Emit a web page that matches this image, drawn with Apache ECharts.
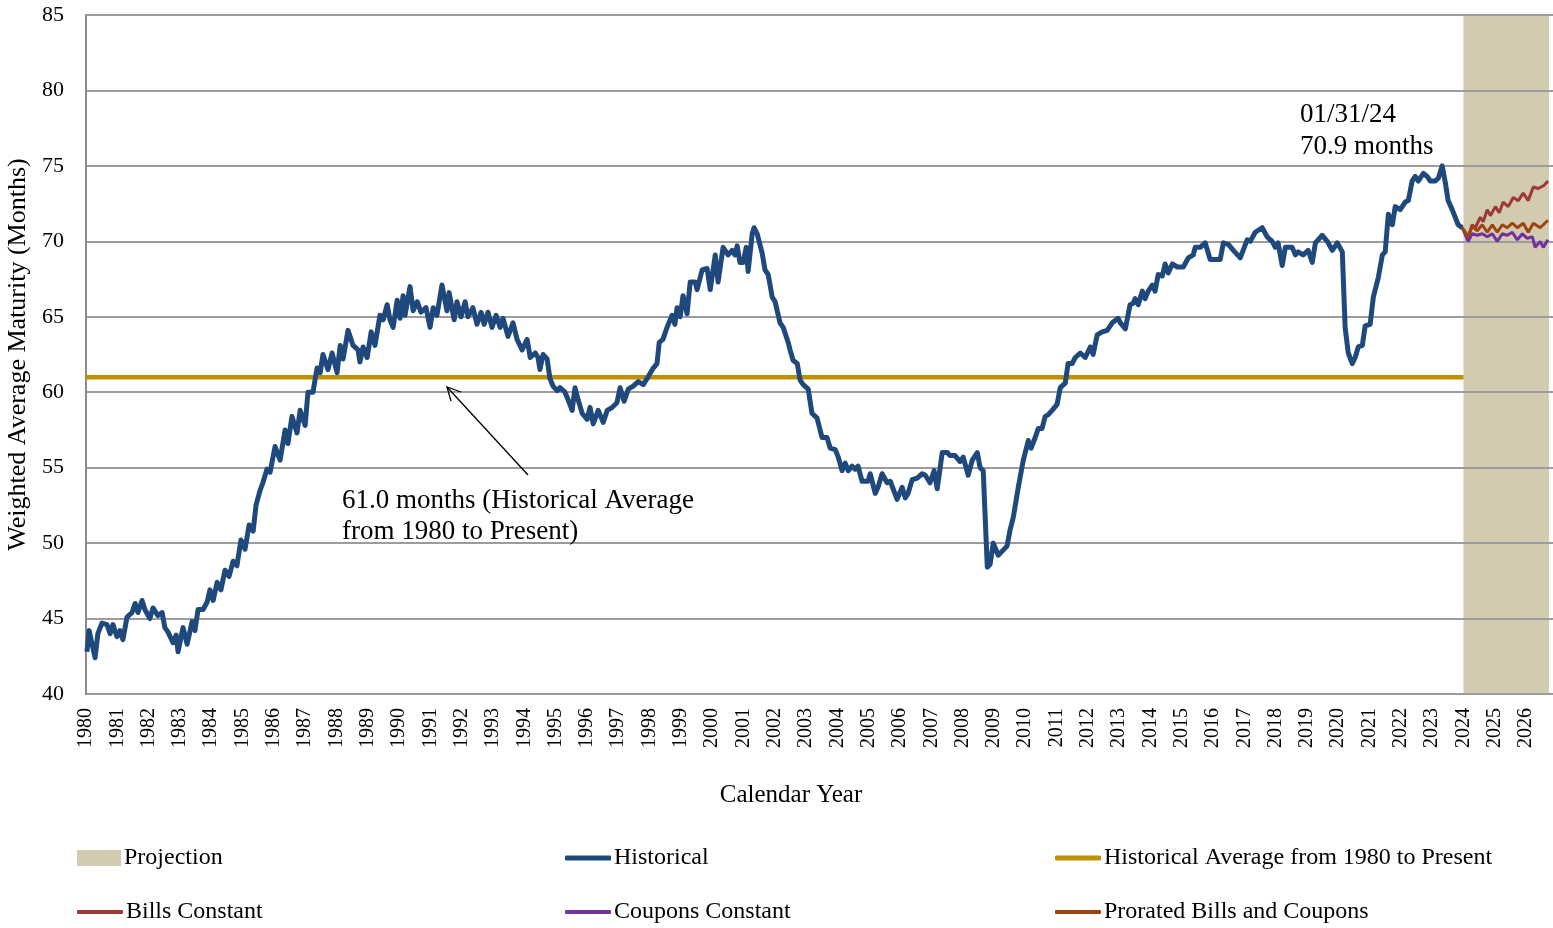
<!DOCTYPE html>
<html>
<head>
<meta charset="utf-8">
<script src="https://cdn.jsdelivr.net/npm/echarts@6/dist/echarts.min.js"></script>
<style>
html,body{margin:0;padding:0;background:#fff;}
#chart{width:1553px;height:928px;}
</style>
</head>
<body>
<div id="chart"></div>
<script>
// ---- Data (decimal year, months) ----
const yTicks = [40, 45, 50, 55, 60, 65, 70, 75, 80, 85];
const historicalAverage = 61.0;
const averageSpan = [1980, 2024];
const projectionSpan = [2024, 2026.73];

const historical = [
[1980.03,42.8],[1980.10,44.2],[1980.29,42.4],[1980.38,44.0],[1980.51,44.7],[1980.67,44.6],[1980.77,44.0],[1980.86,44.6],[1980.99,43.8],
[1981.09,44.2],[1981.18,43.6],[1981.31,45.1],[1981.47,45.4],[1981.57,46.0],[1981.66,45.4],[1981.79,46.2],[1981.88,45.6],
[1982.04,45.0],[1982.14,45.7],[1982.30,45.2],[1982.43,45.4],[1982.52,44.4],[1982.62,44.1],[1982.78,43.4],[1982.88,43.9],[1982.94,42.8],
[1983.10,44.4],[1983.23,43.3],[1983.39,44.8],[1983.48,44.2],[1983.58,45.6],[1983.74,45.6],[1983.87,46.1],
[1983.96,46.9],[1984.06,46.2],[1984.19,47.4],[1984.31,46.9],[1984.44,48.2],[1984.57,47.8],[1984.70,48.8],[1984.82,48.5],[1984.95,50.2],
[1985.08,49.6],[1985.21,51.2],[1985.34,50.8],[1985.43,52.5],[1985.56,53.5],[1985.65,54.0],[1985.78,54.9],[1985.88,54.7],
[1986.04,56.4],[1986.20,55.5],[1986.36,57.5],[1986.45,56.6],[1986.58,58.4],[1986.74,57.3],[1986.84,58.8],
[1987.00,57.8],[1987.09,60.0],[1987.25,60.0],[1987.38,61.6],[1987.48,61.3],[1987.57,62.5],[1987.73,61.5],[1987.86,62.6],
[1988.02,61.3],[1988.12,63.1],[1988.21,62.2],[1988.37,64.1],[1988.53,63.1],[1988.69,62.8],[1988.75,62.0],[1988.85,63.0],[1988.98,62.3],
[1989.11,64.0],[1989.23,63.1],[1989.39,65.1],[1989.49,64.8],[1989.62,65.8],[1989.71,64.8],[1989.81,64.3],[1989.94,66.1],
[1990.03,64.9],[1990.13,66.4],[1990.19,65.1],[1990.35,67.0],[1990.45,65.4],[1990.58,66.0],[1990.70,65.3],[1990.86,65.6],[1990.99,64.3],
[1991.09,65.6],[1991.21,65.1],[1991.37,67.1],[1991.53,65.4],[1991.60,66.6],[1991.76,64.8],[1991.85,66.0],[1991.98,65.0],
[1992.11,66.0],[1992.20,65.0],[1992.36,65.6],[1992.49,64.5],[1992.62,65.3],[1992.72,64.5],[1992.84,65.3],[1992.97,64.3],
[1993.10,65.1],[1993.23,64.3],[1993.32,64.9],[1993.48,63.7],[1993.64,64.6],[1993.77,63.5],[1993.93,62.8],
[1994.09,63.5],[1994.19,62.3],[1994.35,62.6],[1994.44,62.3],[1994.50,61.5],[1994.60,62.5],[1994.73,62.2],[1994.82,60.9],[1994.92,60.4],
[1995.05,60.1],[1995.14,60.3],[1995.30,60.0],[1995.40,59.5],[1995.53,58.8],[1995.62,60.3],[1995.72,59.5],[1995.85,58.6],
[1996.01,58.2],[1996.10,59.0],[1996.20,57.9],[1996.36,58.8],[1996.52,58.0],[1996.65,58.8],[1996.81,59.0],[1996.96,59.3],
[1997.06,60.3],[1997.19,59.4],[1997.32,60.2],[1997.48,60.4],[1997.64,60.7],[1997.80,60.5],[1997.92,60.9],
[1998.12,61.6],[1998.24,61.9],[1998.31,63.3],[1998.43,63.5],[1998.56,64.3],[1998.72,65.1],[1998.81,64.5],[1998.88,65.6],[1998.98,65.0],
[1999.07,66.4],[1999.20,65.2],[1999.30,67.3],[1999.46,67.3],[1999.52,66.8],[1999.68,68.1],[1999.84,68.2],[1999.94,66.8],
[2000.10,69.1],[2000.19,67.3],[2000.35,69.6],[2000.51,69.1],[2000.64,69.4],[2000.73,69.1],[2000.80,69.7],[2000.89,68.6],[2000.99,68.6],
[2001.09,69.6],[2001.15,68.0],[2001.28,70.5],[2001.34,70.9],[2001.44,70.5],[2001.60,69.2],[2001.69,68.1],[2001.79,67.8],[2001.92,66.3],
[2002.01,66.0],[2002.17,64.6],[2002.27,64.3],[2002.43,63.3],[2002.49,62.8],[2002.59,62.1],[2002.72,61.9],[2002.81,60.8],[2002.91,60.5],
[2003.07,60.2],[2003.19,58.6],[2003.35,58.3],[2003.51,57.0],[2003.67,57.0],[2003.77,56.3],[2003.93,56.2],
[2004.03,55.7],[2004.15,54.8],[2004.25,55.3],[2004.35,54.8],[2004.47,55.1],[2004.57,54.9],[2004.66,55.1],[2004.79,54.1],[2004.98,54.1],
[2005.05,54.6],[2005.21,53.3],[2005.30,53.7],[2005.43,54.6],[2005.59,54.0],[2005.69,54.1],[2005.91,52.9],
[2006.07,53.7],[2006.17,53.0],[2006.26,53.3],[2006.39,54.2],[2006.55,54.3],[2006.71,54.6],[2006.81,54.5],[2006.96,54.0],
[2007.09,54.8],[2007.19,53.6],[2007.35,56.0],[2007.51,56.0],[2007.60,55.8],[2007.76,55.8],[2007.92,55.4],
[2008.02,55.7],[2008.18,54.5],[2008.31,55.5],[2008.47,56.0],[2008.56,55.0],[2008.66,54.8],[2008.79,48.4],[2008.88,48.6],[2008.98,50.0],
[2009.14,49.2],[2009.42,49.8],[2009.52,50.9],[2009.62,51.7],[2009.78,53.7],[2009.94,55.5],
[2010.10,56.8],[2010.19,56.3],[2010.32,57.0],[2010.42,57.6],[2010.54,57.6],[2010.64,58.4],[2010.73,58.5],[2010.86,58.8],
[2011.02,59.2],[2011.12,60.3],[2011.28,60.6],[2011.37,61.9],[2011.50,61.9],[2011.60,62.3],[2011.76,62.6],[2011.92,62.3],
[2012.08,63.0],[2012.17,62.5],[2012.30,63.8],[2012.46,64.0],[2012.62,64.1],[2012.78,64.6],[2012.97,64.9],
[2013.04,64.6],[2013.20,64.2],[2013.35,65.8],[2013.45,65.9],[2013.51,66.2],[2013.61,65.8],[2013.74,66.7],[2013.83,66.2],[2013.93,66.7],
[2014.06,67.1],[2014.15,66.7],[2014.25,67.8],[2014.38,67.7],[2014.47,68.5],[2014.57,67.9],[2014.70,68.5],[2014.86,68.3],
[2015.05,68.3],[2015.21,68.9],[2015.37,69.1],[2015.43,69.6],[2015.59,69.6],[2015.75,69.9],[2015.91,68.8],
[2016.07,68.8],[2016.23,68.8],[2016.33,69.9],[2016.49,69.8],[2016.65,69.4],[2016.87,68.9],
[2017.09,70.1],[2017.19,70.0],[2017.35,70.6],[2017.57,70.9],[2017.73,70.3],[2017.89,70.0],[2017.99,69.6],
[2018.08,69.9],[2018.21,68.4],[2018.31,69.6],[2018.53,69.6],[2018.63,69.1],[2018.72,69.3],[2018.88,69.1],
[2019.04,69.4],[2019.17,68.6],[2019.27,69.9],[2019.49,70.4],[2019.65,70.0],[2019.81,69.4],[2019.97,69.9],
[2020.13,69.3],[2020.22,64.3],[2020.32,62.6],[2020.45,61.9],[2020.54,62.3],[2020.64,63.0],[2020.77,63.1],[2020.86,64.4],
[2021.02,64.5],[2021.12,66.3],[2021.28,67.6],[2021.41,69.1],[2021.50,69.3],[2021.60,71.8],[2021.73,71.1],[2021.82,72.3],[2021.98,72.1],
[2022.14,72.6],[2022.24,72.7],[2022.36,74.0],[2022.46,74.3],[2022.56,74.0],[2022.72,74.5],[2022.84,74.3],[2022.94,74.0],
[2023.10,74.0],[2023.20,74.2],[2023.32,75.0],[2023.42,73.9],[2023.51,72.7],[2023.64,72.1],[2023.83,71.1],[2023.96,70.9]
];

const billsConstant = [
[2023.96,70.9],[2024.15,70.3],[2024.28,71.1],[2024.38,70.9],[2024.54,71.6],[2024.63,71.3],[2024.76,72.1],[2024.86,71.7],
[2025.02,72.3],[2025.14,71.9],[2025.27,72.6],[2025.43,72.3],[2025.59,72.9],[2025.75,72.7],[2025.91,73.2],
[2026.07,72.7],[2026.23,73.6],[2026.39,73.5],[2026.57,73.7],[2026.70,74.0]
];
const couponsConstant = [
[2023.96,70.9],[2024.15,70.0],[2024.28,70.5],[2024.44,70.4],[2024.60,70.5],[2024.76,70.3],[2024.92,70.5],
[2025.08,70.0],[2025.24,70.5],[2025.40,70.4],[2025.56,70.6],[2025.72,70.1],[2025.88,70.5],
[2026.04,70.2],[2026.20,70.3],[2026.29,69.6],[2026.45,70.0],[2026.55,69.6],[2026.70,70.1]
];
const proratedBillsCoupons = [
[2023.96,70.9],[2024.15,70.3],[2024.28,71.0],[2024.44,70.7],[2024.60,71.1],[2024.76,70.6],[2024.92,71.1],
[2025.08,70.6],[2025.24,71.1],[2025.40,70.9],[2025.56,71.2],[2025.72,70.9],[2025.91,71.2],
[2026.07,70.6],[2026.23,71.2],[2026.45,70.9],[2026.70,71.4]
];

const seriesNames = ['Projection','Historical','Historical Average from 1980 to Present','Bills Constant','Coupons Constant','Prorated Bills and Coupons'];
const colors = {
  proj:'#D2CBAF', hist:'#1F497D', avg:'#BF9000', bills:'#9D3834', coupons:'#7030A0', prorated:'#9C4512'
};

const FONT = '"Liberation Serif", "Times New Roman", serif';
const chart = echarts.init(document.getElementById('chart'), null, {renderer:'canvas'});

function legendAt(name, left, top, icon, w, h) {
  return {
    data:[{name:name, icon:icon}],
    left:left, top:top, itemWidth:w, itemHeight:h, itemGap:0, padding:0,
    selectedMode:false,
    textStyle:{fontFamily:FONT, fontSize:24, color:'#000', padding:[0,0,0,-2]}
  };
}

const option = {
  animation:false,
  backgroundColor:'#fff',
  grid:{left:86, right:0, top:15, bottom:234, containLabel:false, outerBoundsMode:'none'},
  xAxis:{
    type:'value', min:1980, max:2026.86, interval:1,
    axisLine:{show:true, onZero:false, lineStyle:{color:'#8C8C8C', width:2}},
    axisTick:{show:false},
    splitLine:{show:false},
    axisLabel:{rotate:90, margin:14, fontFamily:FONT, fontSize:20, color:'#000',
      formatter:function(v){ return Number.isInteger(v) ? String(v) : ''; }}
  },
  yAxis:{
    type:'value', min:yTicks[0], max:yTicks[yTicks.length-1], interval:5, z:3,
    axisLine:{show:true, lineStyle:{color:'#8C8C8C', width:2}},
    axisTick:{show:false},
    splitLine:{show:true, lineStyle:{color:'#9C9C9C', width:2}},
    axisLabel:{margin:22, fontFamily:FONT, fontSize:22, color:'#000'},
    name:'Weighted Average Maturity (Months)', nameLocation:'middle', nameGap:46, nameRotate:90,
    nameTextStyle:{fontFamily:FONT, fontSize:26, color:'#000'}
  },
  legend:[
    legendAt(seriesNames[0], 77, 846, 'rect', 44, 16),
    legendAt(seriesNames[1], 565, 846, 'roundRect', 46, 5),
    legendAt(seriesNames[2], 1055, 846, 'roundRect', 46, 5),
    legendAt(seriesNames[3], 77, 900, 'roundRect', 46, 4),
    legendAt(seriesNames[4], 565, 900, 'roundRect', 46, 4),
    legendAt(seriesNames[5], 1055, 900, 'roundRect', 46, 4)
  ],
  series:[
    {name:seriesNames[0], type:'line', data:[], z:1, itemStyle:{color:colors.proj},
     markArea:{silent:true, itemStyle:{color:colors.proj}, data:[[{xAxis:projectionSpan[0]},{xAxis:projectionSpan[1]}]]}},
    {name:seriesNames[1], type:'line', data:historical, z:6, showSymbol:false, symbol:'none', itemStyle:{color:colors.hist},
     lineStyle:{color:colors.hist, width:5, join:'round'}},
    {name:seriesNames[2], type:'line', data:[[averageSpan[0],historicalAverage],[averageSpan[1],historicalAverage]], z:5, symbol:'none',
     itemStyle:{color:colors.avg}, lineStyle:{color:colors.avg, width:4.5}},
    {name:seriesNames[3], type:'line', data:billsConstant, z:5, symbol:'none', itemStyle:{color:colors.bills}, lineStyle:{color:colors.bills, width:3}},
    {name:seriesNames[4], type:'line', data:couponsConstant, z:5, symbol:'none', itemStyle:{color:colors.coupons}, lineStyle:{color:colors.coupons, width:3}},
    {name:seriesNames[5], type:'line', data:proratedBillsCoupons, z:5, symbol:'none', itemStyle:{color:colors.prorated}, lineStyle:{color:colors.prorated, width:3}}
  ],
  graphic:[
    {type:'text', x:791, y:795, z:10, style:{text:'Calendar Year', fontFamily:FONT, fontSize:25, fill:'#000', align:'center', verticalAlign:'middle'}},
    {type:'text', left:1300, top:99, z:10, style:{text:'01/31/24\n70.9 months', fontFamily:FONT, fontSize:27, lineHeight:32, fill:'#000'}},
    {type:'text', left:342, top:485, z:10, style:{text:'61.0 months (Historical Average\nfrom 1980 to Present)', fontFamily:FONT, fontSize:27, lineHeight:31, fill:'#000'}},
    {type:'line', z:10, shape:{x1:528, y1:475, x2:447, y2:387}, style:{stroke:'#000', lineWidth:1.3}},
    {type:'polyline', z:10, shape:{points:[[451,401],[447,387],[461,392]]}, style:{stroke:'#000', lineWidth:1.3, fill:null}}
  ]
};
chart.setOption(option);
</script>
</body>
</html>
